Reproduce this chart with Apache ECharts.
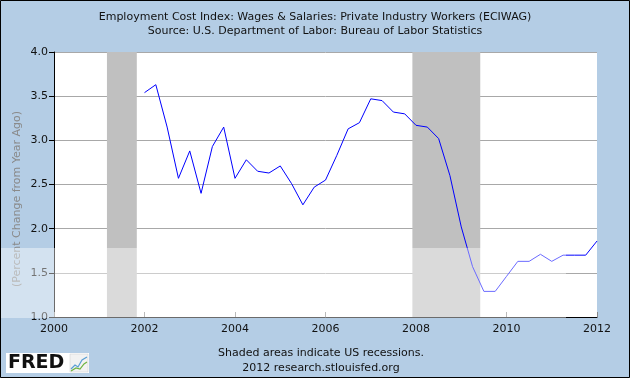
<!DOCTYPE html>
<html>
<head>
<meta charset="utf-8">
<script src="https://cdn.jsdelivr.net/npm/echarts@6/dist/echarts.min.js"></script>
<style>
  html, body { margin: 0; padding: 0; background: #B4CDE5; }
  #graph { width: 630px; height: 378px; }
</style>
</head>
<body>
<div id="graph"></div>
<script>
// quarterly observations, as decimal years
const quarters = [
  2002.00, 2002.25, 2002.50, 2002.75,
  2003.00, 2003.25, 2003.50, 2003.75,
  2004.00, 2004.25, 2004.50, 2004.75,
  2005.00, 2005.25, 2005.50, 2005.75,
  2006.00, 2006.25, 2006.50, 2006.75,
  2007.00, 2007.25, 2007.50, 2007.75,
  2008.00, 2008.25, 2008.50, 2008.75,
  2009.00, 2009.25, 2009.50, 2009.75,
  2010.00, 2010.25, 2010.50, 2010.75,
  2011.00, 2011.25, 2011.50, 2011.75,
  2012.00
];
const eciwag = [
  3.54, 3.63, 3.15, 2.57,
  2.88, 2.40, 2.93, 3.15,
  2.57, 2.78, 2.65, 2.63,
  2.71, 2.51, 2.27, 2.47,
  2.55, 2.83, 3.13, 3.20,
  3.47, 3.45, 3.32, 3.30,
  3.17, 3.15, 3.02, 2.60,
  2.02, 1.57, 1.29, 1.29,
  1.46, 1.63, 1.63, 1.71,
  1.63, 1.70, 1.70, 1.70,
  1.86
];
// recession start / end, decimal years
const recessions = [
  [2001.17, 2001.83],
  [2007.92, 2009.42]
];

const font = "DejaVu Sans";
const chart = echarts.init(document.getElementById("graph"));

chart.setOption({
  backgroundColor: "#B4CDE5",
  animation: false,
  title: {
    text: "Employment Cost Index: Wages & Salaries: Private Industry Workers (ECIWAG)\nSource: U.S. Department of Labor: Bureau of Labor Statistics",
    left: "center",
    top: 5,
    textStyle: { fontFamily: font, fontSize: 11, fontWeight: "normal", color: "#111", lineHeight: 14 }
  },
  grid: { left: 54, right: 33, top: 52, bottom: 61, show: true, backgroundColor: "#fff", borderWidth: 0 },
  xAxis: {
    type: "value",
    min: 2000,
    max: 2012,
    interval: 2,
    axisLine: { lineStyle: { color: "#000", width: 1 } },
    axisTick: { inside: true, length: 5, lineStyle: { color: "#888" } },
    axisLabel: { fontFamily: font, fontSize: 11, color: "#111", margin: 7, formatter: v => String(v) },
    splitLine: { show: false }
  },
  yAxis: {
    type: "value",
    min: 1,
    max: 4,
    interval: 0.5,
    axisLine: { show: true, lineStyle: { color: "#000", width: 1 } },
    axisTick: { show: true, length: 5, lineStyle: { color: "#000" } },
    axisLabel: { fontFamily: font, fontSize: 11, color: "#111", margin: 6, formatter: v => v.toFixed(1) },
    splitLine: { lineStyle: { color: "#A8A8A8", width: 1 } }
  },
  series: [{
    type: "line",
    data: quarters.map((q, i) => [q, eciwag[i]]),
    showSymbol: false,
    lineStyle: { color: "#0000FF", width: 1 },
    z: 3,
    markArea: {
      silent: true,
      itemStyle: { color: "#C0C0C0", opacity: 1 },
      data: recessions.map(r => [{ xAxis: r[0] }, { xAxis: r[1] }])
    }
  }],
  graphic: [
    {
      type: "text", z: 10, x: 17, y: 199, rotation: Math.PI / 2,
      style: { text: "(Percent Change from Year Ago)", font: "11px " + font, fill: "#8a8a8a", textAlign: "center", textVerticalAlign: "middle" }
    },
    {
      type: "text", z: 10, x: 321, y: 346,
      style: { text: "Shaded areas indicate US recessions.\n2012 research.stlouisfed.org", font: "11px " + font, fill: "#111", textAlign: "center", lineHeight: 15 }
    },
    // photobucket watermark band
    {
      type: "rect", z: 20, silent: true,
      shape: { x: 0, y: 248, width: 566, height: 70 },
      style: { fill: "rgba(255,255,255,0.42)" }
    },
    // FRED logo
    {
      type: "group", x: 6, y: 353, z: 30,
      children: [
        { type: "rect", shape: { x: 0, y: 0, width: 83, height: 20 }, style: { fill: "#fff" } },
        { type: "text", style: { text: "FRED", x: 2, y: 1, font: "bold 19px 'DejaVu Sans'", fill: "#111" } },
        { type: "rect", shape: { x: 64, y: 1, width: 18, height: 18 }, style: { fill: "#f2f2f2", stroke: "#ccc", lineWidth: 0.5 } },
        { type: "polyline", shape: { points: [[65, 16], [69, 12], [72, 14], [76, 7], [81, 4]] }, style: { stroke: "#5a9fd4", lineWidth: 1.2, fill: null } },
        { type: "polyline", shape: { points: [[65, 18], [70, 15], [74, 16], [78, 11], [81, 9]] }, style: { stroke: "#6db33f", lineWidth: 1.2, fill: null } }
      ]
    },
    // outer border
    {
      type: "rect", z: 40, silent: true,
      shape: { x: 0.5, y: 0.5, width: 629, height: 377 },
      style: { fill: null, stroke: "#000", lineWidth: 1 }
    }
  ]
});
</script>
</body>
</html>
